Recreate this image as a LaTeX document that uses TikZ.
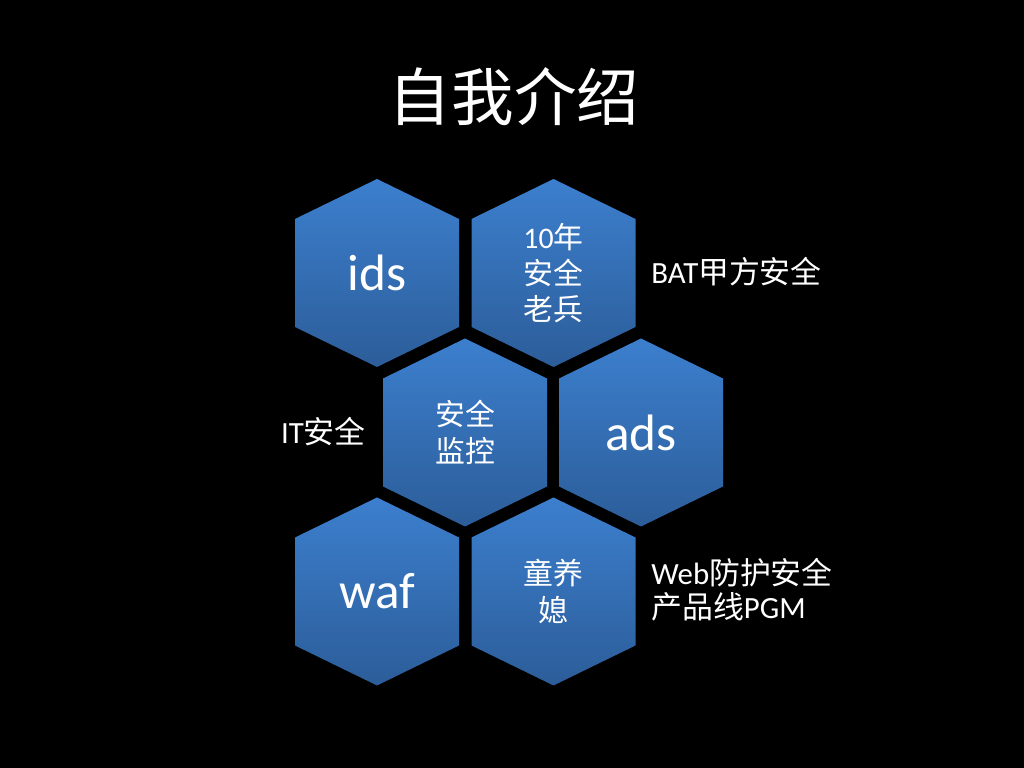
\documentclass[tikz,border=0pt]{standalone}
\usepackage{fontspec}
\setmainfont{Carlito}
\newfontfamily\cjk{Noto Sans CJK SC}
\definecolor{hexTop}{RGB}{60,127,206}
\definecolor{hexBot}{RGB}{44,93,153}
\usetikzlibrary{positioning}
\tikzset{
  hexcell/.style={top color=hexTop,bottom color=hexBot,draw=none},
  hexword/.style={text=white,font=\fontsize{36}{40}\selectfont},
  hexcjk/.style={text=white,font=\fontsize{21}{25.5}\selectfont,align=center},
  sidetext/.style={text=white,font=\fontsize{21.7}{24}\selectfont,align=left,inner sep=0pt},
}
% one hexagon cell, centre given in slide pixels
\newcommand{\hexcellat}[2]{%
  \shade[hexcell,shift={(#1,#2)}] (0,94) -- (82,54) -- (82,-54) -- (0,-94)
    -- (-82,-54) -- (-82,54) -- cycle;}

\begin{document}
\begin{tikzpicture}[x=0.703125pt,y=0.703125pt]
  % slide background
  \fill[black] (0,0) rectangle (1024,768);
  \useasboundingbox (0,0) rectangle (1024,768);

  % title
  \node[text=white,font=\fontsize{44}{48}\selectfont\cjk] (title) at (514,671) {自我介绍};

  % honeycomb
  \hexcellat{377}{495}
  \hexcellat{553.5}{495}
  \hexcellat{465}{335.5}
  \hexcellat{641}{335.5}
  \hexcellat{377}{176.5}
  \hexcellat{553.5}{176.5}

  \node[hexword] (ids) at (377,495) {ids};
  \node[hexcjk] (veteran) at (553.5,495) {10{\cjk 年}\\{\cjk 安全}\\{\cjk 老兵}};
  \node[hexcjk] (monitor) at (465,335.5) {\cjk 安全\\\cjk 监控};
  \node[hexword] (ads) at (641,335.5) {ads};
  \node[hexword] (waf) at (377,176.5) {waf};
  \node[hexcjk] (trainee) at (553.5,176.5) {\cjk 童养\\\cjk 媳};

  % side notes
  \node[sidetext,anchor=west] (bat) at (651,496) {BAT{\cjk 甲方安全}};
  \node[sidetext,anchor=east] (itsec) at (366,336) {IT{\cjk 安全}};
  \node[sidetext,anchor=west] (pgm) at (651,178) {Web{\cjk 防护安全}\\{\cjk 产品线}PGM};
\end{tikzpicture}
\end{document}
